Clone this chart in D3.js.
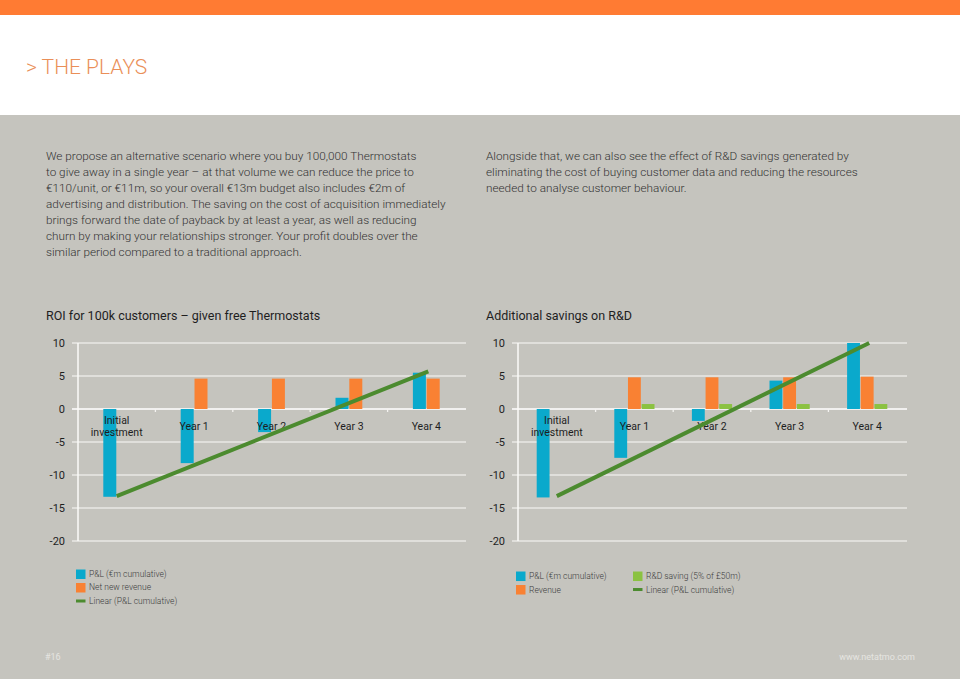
<!DOCTYPE html>
<html>
<head>
<meta charset="utf-8">
<script src="https://cdnjs.cloudflare.com/ajax/libs/d3/7.8.5/d3.min.js"></script>
<style>
  body { margin: 0; background: #c5c4be; }
  svg { display: block; }
</style>
</head>
<body>
<svg></svg>
<script>
var width = 960;
var height = 679;

var categories = ["Initial investment", "Year 1", "Year 2", "Year 3", "Year 4"];
var yTicks = [10, 5, 0, -5, -10, -15, -20];

// ROI chart (left)
var roiPL = [-13.3, -8.2, -3.5, 1.7, 5.5];
var roiRevenue = [0, 4.6, 4.6, 4.6, 4.6];
var roiTrend = [-13.2, 5.7]; // linear trend at first and last category

// R&D chart (right)
var rdPL = [-13.4, -7.4, -1.8, 4.3, 10.0];
var rdRevenue = [0, 4.8, 4.8, 4.8, 4.9];
var rdSaving = [0, 0.75, 0.75, 0.75, 0.75];
var rdTrend = [-13.2, 10.0];

var leftText = [
  "We propose an alternative scenario where you buy 100,000 Thermostats",
  "to give away in a single year \u2013 at that volume we can reduce the price to",
  "\u20ac110/unit, or \u20ac11m, so your overall \u20ac13m budget also includes \u20ac2m of",
  "advertising and distribution. The saving on the cost of acquisition immediately",
  "brings forward the date of payback by at least a year, as well as reducing",
  "churn by making your relationships stronger. Your profit doubles over the",
  "similar period compared to a traditional approach."
];
var rightText = [
  "Alongside that, we can also see the effect of R&D savings generated by",
  "eliminating the cost of buying customer data and reducing the resources",
  "needed to analyse customer behaviour."
];

var blue = "#0aa9cc", orange = "#f98133", lightGreen = "#8bc241", darkGreen = "#4c8b2f";
var font = "Roboto, 'Liberation Sans', sans-serif";

var svg = d3.select("svg")
  .attr("width", width)
  .attr("height", height)
  .style("font-family", font);

// page background
svg.append("rect").attr("width", width).attr("height", height).attr("fill", "#c5c4be");
svg.append("rect").attr("width", width).attr("height", 115).attr("fill", "#ffffff");
svg.append("rect").attr("width", width).attr("height", 15).attr("fill", "#ff7b33");

svg.append("text")
  .attr("x", 26).attr("y", 74)
  .attr("fill", "#ea8f58")
  .style("font-size", "21px")
  .style("font-weight", 300)
  .text("> THE PLAYS");

function paragraph(lines, x, y) {
  svg.append("text")
    .attr("x", x).attr("y", y)
    .attr("fill", "#333")
    .style("font-size", "11.75px")
    .style("font-weight", 300)
    .selectAll("tspan")
    .data(lines)
    .enter()
    .append("tspan")
      .attr("x", x)
      .attr("dy", (d, i) => i ? 16 : 0)
      .text(d => d);
}
paragraph(leftText, 46, 159.5);
paragraph(rightText, 486, 159.5);

function chart(opts) {
  var g = svg.append("g");
  var y = d3.scaleLinear().domain([-20, 10]).range([541, 343]);
  var x0 = d3.scaleBand().domain(categories).range([opts.left, opts.right]);
  var names = opts.series.map(s => s.name);
  var groupW = 13.4 * names.length;
  var x1 = d3.scaleBand().domain(names).range([-groupW / 2, groupW / 2]).paddingInner(0.06);

  g.append("text")
    .attr("x", opts.left - 32).attr("y", 320)
    .attr("fill", "#1e1e1e")
    .style("font-size", "12.5px")
    .text(opts.title);

  // gridlines
  g.selectAll(".grid")
    .data(yTicks)
    .enter()
    .append("line")
      .attr("x1", opts.left - 6).attr("x2", opts.right + 1)
      .attr("y1", d => y(d)).attr("y2", d => y(d))
      .attr("stroke", d => d === 0 ? "#ffffff" : "#e9e8e4")
      .attr("stroke-width", d => d === 0 ? 1.5 : 1.3);

  g.selectAll(".ylab")
    .data(yTicks)
    .enter()
    .append("text")
      .attr("x", opts.left - 13).attr("y", d => y(d))
      .attr("dy", "0.35em")
      .attr("text-anchor", "end")
      .attr("fill", "#1e1e1e")
      .style("font-size", "11px")
      .text(d => d);

  // y axis line
  g.append("line")
    .attr("x1", opts.left).attr("x2", opts.left)
    .attr("y1", y(10)).attr("y2", y(-20))
    .attr("stroke", "#fbfbf9").attr("stroke-width", 1.5);

  // category tick marks on zero line
  g.selectAll(".xtick")
    .data(categories.slice(1))
    .enter()
    .append("line")
      .attr("x1", d => x0(d)).attr("x2", d => x0(d))
      .attr("y1", y(0)).attr("y2", y(0) + 3)
      .attr("stroke", "#f4f3f0").attr("stroke-width", 1.3);

  // bars
  opts.series.forEach(s => {
    g.selectAll(null)
      .data(s.values)
      .enter()
      .append("rect")
        .attr("x", (d, i) => x0(categories[i]) + x0.bandwidth() / 2 + x1(s.name))
        .attr("width", x1.bandwidth())
        .attr("y", d => y(Math.max(0, d)))
        .attr("height", d => Math.abs(y(d) - y(0)))
        .attr("fill", s.color);
  });

  // category labels
  var labels = g.selectAll(".xlab")
    .data(categories)
    .enter()
    .append("text")
      .attr("text-anchor", "middle")
      .attr("fill", "#1e1e1e")
      .style("font-size", "10.5px");
  labels.each(function(d, i) {
    var cx = x0(d) + x0.bandwidth() / 2;
    var words = i === 0 ? d.split(" ") : [d];
    var base = i === 0 ? 424 : 430;
    d3.select(this).selectAll("tspan")
      .data(words)
      .enter()
      .append("tspan")
        .attr("x", cx)
        .attr("y", (w, j) => base + j * 11.5)
        .text(w => w);
  });

  // linear trend line
  var first = categories[0], last = categories[categories.length - 1];
  g.append("line")
    .attr("x1", x0(first) + x0.bandwidth() / 2)
    .attr("x2", x0(last) + x0.bandwidth() / 2 + 2)
    .attr("y1", y(opts.trend[0]))
    .attr("y2", y(opts.trend[1]))
    .attr("stroke", darkGreen).attr("stroke-width", 4);

  // legend
  var leg = g.selectAll(".leg")
    .data(opts.legend)
    .enter()
    .append("g")
      .attr("transform", d => "translate(" + (opts.left - 2 + d.col * 117) + "," + (574 + d.row * 13.5) + ")");
  leg.filter(d => d.type === "box")
    .append("rect")
      .attr("x", 0).attr("y", -4.5).attr("width", 9.5).attr("height", 9.5)
      .attr("fill", d => d.color);
  leg.filter(d => d.type === "line")
    .append("rect")
      .attr("x", 0).attr("y", -1.5).attr("width", 9.5).attr("height", 3)
      .attr("fill", d => d.color);
  leg.append("text")
    .attr("x", 13).attr("y", 0)
    .attr("dy", "0.35em")
    .attr("fill", "#3c3c3c")
    .style("font-size", "8.5px")
    .style("font-weight", 300)
    .text(d => d.label);
}

chart({
  title: "ROI for 100k customers \u2013 given free Thermostats",
  left: 78, right: 465,
  series: [
    { name: "P&L (\u20acm cumulative)", values: roiPL, color: blue },
    { name: "Net new revenue", values: roiRevenue, color: orange }
  ],
  trend: roiTrend,
  legend: [
    { label: "P&L (\u20acm cumulative)", color: blue, type: "box", col: 0, row: 0 },
    { label: "Net new revenue", color: orange, type: "box", col: 0, row: 1 },
    { label: "Linear (P&L cumulative)", color: darkGreen, type: "line", col: 0, row: 2 }
  ]
});

chart({
  title: "Additional savings on R&D",
  left: 518, right: 906,
  series: [
    { name: "P&L (\u20acm cumulative)", values: rdPL, color: blue },
    { name: "Revenue", values: rdRevenue, color: orange },
    { name: "R&D saving (5% of \u00a350m)", values: rdSaving, color: lightGreen }
  ],
  trend: rdTrend,
  legend: [
    { label: "P&L (\u20acm cumulative)", color: blue, type: "box", col: 0, row: 0.15 },
    { label: "Revenue", color: orange, type: "box", col: 0, row: 1.15 },
    { label: "R&D saving (5% of \u00a350m)", color: lightGreen, type: "box", col: 1, row: 0.15 },
    { label: "Linear (P&L cumulative)", color: darkGreen, type: "line", col: 1, row: 1.15 }
  ]
});

// footer
svg.append("text")
  .attr("x", 45).attr("y", 660)
  .attr("fill", "#e6e5e1")
  .style("font-size", "9px")
  .text("#16");
svg.append("text")
  .attr("x", 915).attr("y", 660)
  .attr("text-anchor", "end")
  .attr("fill", "#e6e5e1")
  .style("font-size", "9px")
  .text("www.netatmo.com");
</script>
</body>
</html>
